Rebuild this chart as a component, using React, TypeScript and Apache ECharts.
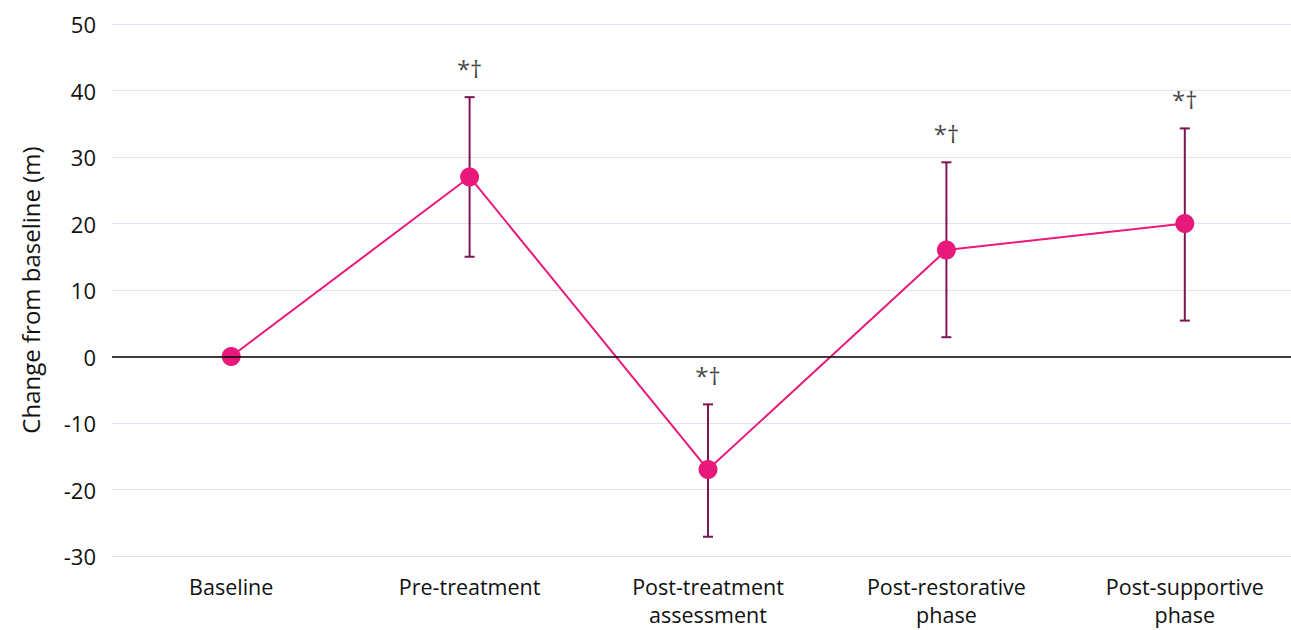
import React, { useEffect, useRef } from "react";
import * as echarts from "echarts";

const categories = [
  "Baseline",
  "Pre-treatment",
  "Post-treatment\nassessment",
  "Post-restorative\nphase",
  "Post-supportive\nphase",
];
const means = [0, 27, -17, 16, 20];
const upper = [null, 39, -7.2, 29.2, 34.3];
const lower = [null, 15, -27.1, 2.9, 5.4];
const marks = ["", "*†", "*†", "*†", "*†"];
const yTicks = { min: -30, max: 50, interval: 10 };

const FONT = "'Open Sans', 'Noto Sans', sans-serif";

export default function App() {
  const ref = useRef<HTMLDivElement>(null);
  useEffect(() => {
    const chart = echarts.init(ref.current!, null, { renderer: "svg" });
    const errData = categories
      .map((_, i) => (upper[i] == null ? null : [i, lower[i], upper[i]]))
      .filter((d) => d != null);
    const markData = categories
      .map((_, i) => (marks[i] ? [i, upper[i]] : null))
      .filter((d) => d != null);
    chart.setOption({
      animation: false,
      grid: {
        left: 112,
        top: 24,
        width: 1192,
        height: 532,
        containLabel: false,
        outerBoundsMode: "none",
      },
      xAxis: {
        type: "category",
        data: categories,
        boundaryGap: true,
        axisLine: { show: false, onZero: false },
        axisTick: { show: false },
        axisLabel: {
          color: "#111",
          fontSize: 21.5,
          fontFamily: FONT,
          lineHeight: 28,
          margin: 16,
          interval: 0,
        },
        splitLine: { show: false },
      },
      yAxis: {
        type: "value",
        min: yTicks.min,
        max: yTicks.max,
        interval: yTicks.interval,
        name: "Change from baseline (m)",
        nameLocation: "middle",
        nameGap: 70,
        nameRotate: 90,
        nameTextStyle: { color: "#111", fontSize: 24, fontFamily: FONT },
        axisLine: { show: false },
        axisTick: { show: false },
        axisLabel: { color: "#111", fontSize: 22, fontFamily: FONT, margin: 16 },
        splitLine: { lineStyle: { color: "#e2e2f0", width: 1 } },
      },
      series: [
        {
          type: "custom",
          z: 3,
          renderItem: (params: any, api: any) => {
            const x = api.value(0);
            const lo = api.coord([x, api.value(1)]);
            const hi = api.coord([x, api.value(2)]);
            const hw = 5;
            const style = { stroke: "#7b1652", lineWidth: 2 };
            return {
              type: "group",
              children: [
                { type: "line", shape: { x1: lo[0], y1: lo[1], x2: hi[0], y2: hi[1] }, style },
                { type: "line", shape: { x1: lo[0] - hw, y1: lo[1], x2: lo[0] + hw, y2: lo[1] }, style },
                { type: "line", shape: { x1: hi[0] - hw, y1: hi[1], x2: hi[0] + hw, y2: hi[1] }, style },
              ],
            };
          },
          data: errData,
          encode: { x: 0, y: [1, 2] },
        },
        {
          type: "line",
          z: 4,
          data: means,
          symbol: "circle",
          symbolSize: 19,
          lineStyle: { color: "#e8197a", width: 2 },
          itemStyle: { color: "#e8197a" },
          markLine: {
            silent: true,
            symbol: "none",
            label: { show: false },
            lineStyle: { color: "#000", width: 1.5, type: "solid" },
            data: [{ yAxis: 0 }],
          },
        },
        {
          type: "scatter",
          z: 5,
          symbolSize: 0,
          data: markData,
          label: {
            show: true,
            position: "top",
            distance: 17,
            formatter: (p: any) => marks[p.value[0]],
            color: "#111",
            fontSize: 24,
            fontFamily: FONT,
          },
        },
      ],
    });
    return () => chart.dispose();
  }, []);
  return (
    <div
      ref={ref}
      style={{ position: "absolute", left: 0, top: 0, width: 1291, height: 630, background: "#fff" }}
    />
  );
}
